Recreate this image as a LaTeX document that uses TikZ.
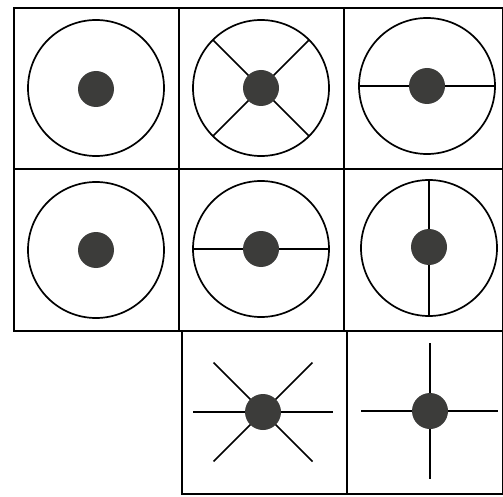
\documentclass[tikz,border=0pt]{standalone}
\usepackage{tikz}
\definecolor{dotgrey}{HTML}{3C3C3A}
\tikzset{
  cellbox/.style={line width=1.8pt, line cap=round},
  ring/.style={line width=1.7pt},
  spoke/.style={line width=1.7pt},
  blob/.style={fill=dotgrey}
}

\begin{document}
\begin{tikzpicture}[x=1pt,y=-1pt]
  \useasboundingbox (0,0) rectangle (503,497);
  % grid, top two rows
  \draw[cellbox] (14,8) rectangle (503,331);
  \draw[cellbox] (14,169) -- (503,169);
  \draw[cellbox] (179,8) -- (179,331);
  \draw[cellbox] (344,8) -- (344,331);
  % bottom row, two cells only
  \draw[cellbox] (182,331) rectangle (503,494);
  \draw[cellbox] (347,331) -- (347,494);
  % rings
  \foreach \x/\y in {96/88, 261/88, 427/86, 96/250, 261/249, 429/248}
    \draw[ring] (\x,\y) circle (68);
  % spokes inside the rings
  \foreach \a in {45,135,225,315}
    \draw[spoke] (261,88) -- ++(\a:68);
  \draw[spoke] (359,86) -- (495,86);
  \draw[spoke] (193,249) -- (329,249);
  \draw[spoke] (429,180) -- (429,316);
  % bare spokes, bottom row
  \foreach \a in {0,45,135,180,225,315}
    \draw[spoke] (263,412) -- ++(\a:70);
  \draw[spoke] (361,411) -- (498,411);
  \draw[spoke] (430,343) -- (430,479);
  % dots
  \foreach \x/\y in {96/89, 261/88, 427/86, 96/250, 261/249, 429/247, 263/412, 430/411}
    \fill[blob] (\x,\y) circle (18);
\end{tikzpicture}
\end{document}
